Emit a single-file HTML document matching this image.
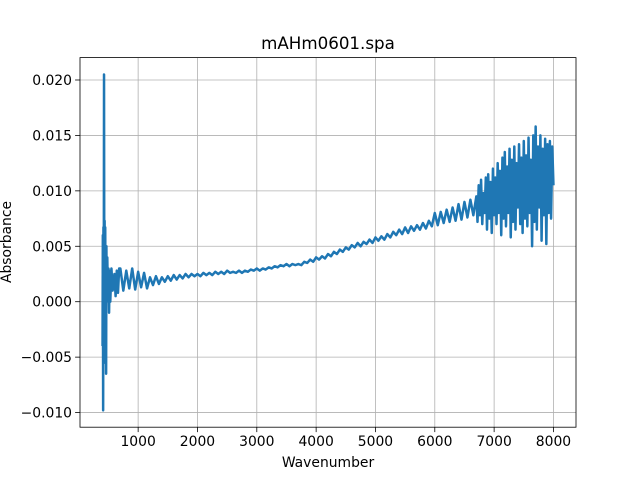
<!DOCTYPE html>
<html><head><meta charset="utf-8"><style>
body{margin:0;background:#fff;}
svg{display:block;font-family:"DejaVu Sans","Liberation Sans",sans-serif;}
</style></head><body>
<svg id="chart" width="640" height="480">
<rect width="640" height="480" fill="#fff"/>
<g id="grid"></g>
<g id="plot"></g>
<rect x="80" y="57.6" width="496" height="369.6" fill="none" stroke="#000" stroke-width="0.8"/>
<g id="ticks"></g>
<text x="328" y="49" text-anchor="middle" font-size="16.7">mAHm0601.spa</text>
<text x="328" y="467" text-anchor="middle" font-size="13.9">Wavenumber</text>
<text x="0" y="0" transform="translate(11,242) rotate(-90)" text-anchor="middle" font-size="13.9">Absorbance</text>
</svg>
<script>
const spikeX = [400,405,410,415,420,425,430,435,440,445,450,455,460,465,470,480,490,500,510,520,530,550,570,600,620,640,660,680];
const spikeY = [-0.004,0.006,-0.0098,0.0067,-0.003,0.0205,-0.002,0.0073,-0.0055,0.0067,0.001,0.0048,-0.0065,0.005,0.0,0.004,0.0005,0.003,-0.001,0.0028,0.0,0.003,0.001,0.0025,0.0005,0.0028,0.0008,0.003];
const mainStart = 700;
const mainStep = 50;
const mainY = [
0.0030,0.0010,0.0028,0.0012,0.0030,0.0011,0.0027,0.0013,0.0026,0.0012,
0.0022,0.0015,0.0023,0.0016,0.0022,0.0018,0.0023,0.0019,0.0024,0.0020,
0.0024,0.0021,0.0025,0.0022,0.0025,0.0023,0.0025,0.0023,0.0026,0.0024,
0.0026,0.0024,0.0027,0.0025,0.0027,0.0025,0.0028,0.0026,0.0027,0.0026,
0.0028,0.0026,0.0028,0.0027,0.0029,0.0028,0.0030,0.0028,0.0030,0.0029,
0.0031,0.0030,0.0032,0.0031,0.0033,0.0032,0.0034,0.0032,0.0034,0.0033,
0.0034,0.0033,0.0036,0.0035,0.0038,0.0036,0.0040,0.0038,0.0041,0.0039,
0.0043,0.0041,0.0045,0.0043,0.0047,0.0045,0.0049,0.0047,0.0051,0.0049,
0.0053,0.0050,0.0054,0.0052,0.0056,0.0053,0.0058,0.0055,0.0059,0.0056,
0.0061,0.0058,0.0063,0.0060,0.0065,0.0061,0.0067,0.0062,0.0068,0.0064,
0.0069,0.0065,0.0071,0.0066,0.0073,0.0068,0.0080,0.0069,0.0081,0.0071,
0.0083,0.0072,0.0085,0.0073,0.0088,0.0074,0.0090,0.0076,0.0092,0.0078];
const tailStart = 6700;
const tailStep = 20;
const tailY = [
0.0095,0.0072,0.0105,0.0078,0.0110,0.0070,0.0098,0.0080,0.0112,0.0065,
0.0115,0.0075,0.0108,0.0062,0.0120,0.0078,0.0112,0.0070,0.0125,0.0080,
0.0118,0.0060,0.0130,0.0075,0.0135,0.0068,0.0122,0.0080,0.0138,0.0058,
0.0128,0.0072,0.0140,0.0065,0.0125,0.0085,0.0142,0.0070,0.0130,0.0062,
0.0145,0.0075,0.0132,0.0068,0.0148,0.0080,0.0128,0.0050,0.0150,0.0072,
0.0158,0.0065,0.0140,0.0085,0.0150,0.0055,0.0138,0.0078,0.0147,0.0052,
0.0142,0.0080,0.0145,0.0075,0.0140,0.0105];
const xTicks = [1000,2000,3000,4000,5000,6000,7000,8000];
const yTicks = [-0.010,-0.005,0.000,0.005,0.010,0.015,0.020];
const yTickLabels = ["−0.010","−0.005","0.000","0.005","0.010","0.015","0.020"];

const L=80,R=576,T=57.6,B=427.2;
const xMin=20,xMax=8380,yMin=-0.01132,yMax=0.02202;
const sx=v=>L+(v-xMin)/(xMax-xMin)*(R-L);
const sy=v=>B-(v-yMin)/(yMax-yMin)*(B-T);
const NS="http://www.w3.org/2000/svg";
const mk=(t,a)=>{const e=document.createElementNS(NS,t);for(const k in a)e.setAttribute(k,a[k]);return e;};

const xs=spikeX.slice(), ys=spikeY.slice();
mainY.forEach((v,i)=>{xs.push(mainStart+i*mainStep);ys.push(v);});
tailY.forEach((v,i)=>{xs.push(tailStart+i*tailStep);ys.push(v);});

const grid=document.getElementById('grid'), ticks=document.getElementById('ticks'), plot=document.getElementById('plot');
xTicks.forEach(v=>{
  const x=sx(v);
  const g=mk('line',{x1:x,x2:x,y1:T,y2:B,stroke:'#b0b0b0','stroke-width':0.8});
  
  
  grid.appendChild(g);
  const t=mk('line',{x1:x,x2:x,y1:B,y2:B+4.9,stroke:'#000','stroke-width':0.8});
  
  
  ticks.appendChild(t);
  const l=mk('text',{x:x,y:B+19,'text-anchor':'middle','font-size':13.9});
  
  
  l.textContent=v; ticks.appendChild(l);
});
yTicks.forEach((v,i)=>{
  const y=sy(v);
  const g=mk('line',{x1:L,x2:R,y1:y,y2:y,stroke:'#b0b0b0','stroke-width':0.8});
  
  
  grid.appendChild(g);
  const t=mk('line',{x1:L-4.9,x2:L,y1:y,y2:y,stroke:'#000','stroke-width':0.8});
  
  
  ticks.appendChild(t);
  const l=mk('text',{x:L-8,y:y+5,'text-anchor':'end','font-size':13.9});
  
  
  l.textContent=yTickLabels[i]; ticks.appendChild(l);
});
const d=xs.map((x,i)=>(i?'L':'M')+sx(x).toFixed(2)+','+sy(ys[i]).toFixed(2)).join('');
const p=mk('path',{d:d,fill:'none',stroke:'#1f77b4','stroke-width':2.5,'stroke-linejoin':'round'});


plot.appendChild(p);
</script>
</body></html>
